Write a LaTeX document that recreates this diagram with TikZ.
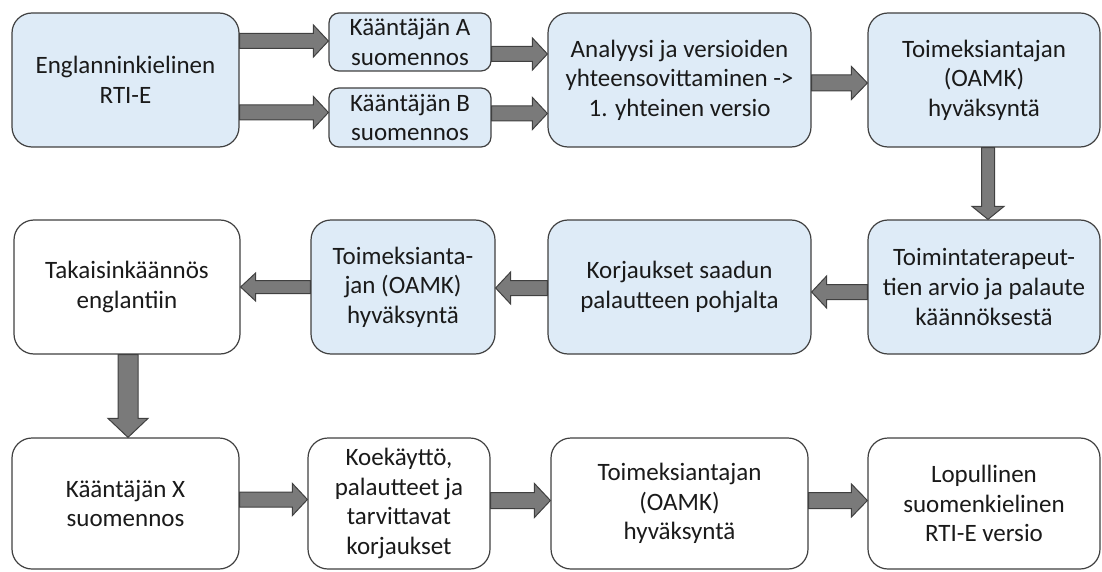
\documentclass[tikz,border=0pt]{standalone}
\usepackage{fontspec}
\setmainfont{Carlito}
\usetikzlibrary{calc}
\definecolor{boxblue}{HTML}{DEEBF7}
\definecolor{boxline}{HTML}{404040}
\definecolor{arrfill}{HTML}{7A7A7A}
\definecolor{txt}{HTML}{1A1A1A}
\tikzset{
  procbox/.style={draw=boxline, line width=1.2pt, rounded corners=20pt, align=center,
    inner sep=0pt, text=txt, font=\fontsize{25}{29.6}\selectfont},
  bluebox/.style={procbox, fill=boxblue},
  whitebox/.style={procbox, fill=white},
  smallbox/.style={rounded corners=10pt},
  blockarr/.style={draw=boxline, line width=1pt, fill=arrfill, line join=miter}
}
\newcommand\barrow[5]{%
  \coordinate (bs) at (#1);
  \coordinate (bt) at (#2);
  \coordinate (bh) at ($(bt)!#5!(bs)$);
  \draw[blockarr] ($(bs)!#3!90:(bt)$) -- ($(bh)!#3!-90:(bs)$) -- ($(bh)!#4!-90:(bs)$)
    -- (bt) -- ($(bh)!#4!90:(bs)$) -- ($(bh)!#3!90:(bs)$) -- ($(bs)!#3!-90:(bt)$) -- cycle;}
\begin{document}
\begin{tikzpicture}[x=1pt, y=-1pt]
\useasboundingbox (0,0) rectangle (1102,572);
% row 1
\node[bluebox, minimum width=227pt, minimum height=134pt] (n1) at (125.5,80) {Englanninkielinen\\RTI-E};
\node[bluebox, smallbox, minimum width=162pt, minimum height=58pt] (nA) at (410,42) {Kääntäjän A\\suomennos};
\node[bluebox, smallbox, minimum width=162pt, minimum height=59pt] (nB) at (410,117.5) {Kääntäjän B\\suomennos};
\node[bluebox, minimum width=263pt, minimum height=134pt] (n3) at (679.5,80) {Analyysi ja versioiden\\yhteensovittaminen ->\\1. yhteinen versio};
\node[bluebox, minimum width=232pt, minimum height=134pt] (n4) at (984,80) {Toimeksiantajan\\(OAMK)\\hyväksyntä};
% row 2
\node[bluebox, minimum width=232pt, minimum height=134pt] (n5) at (984,287) {Toimintaterapeut-\\tien arvio ja palaute\\käännöksestä};
\node[bluebox, minimum width=263pt, minimum height=134pt] (n6) at (679.5,287) {Korjaukset saadun\\palautteen pohjalta};
\node[bluebox, minimum width=184pt, minimum height=134pt] (n7) at (403,287) {Toimeksianta-\\jan (OAMK)\\hyväksyntä};
\node[whitebox, minimum width=226pt, minimum height=134pt] (n8) at (127,287) {Takaisinkäännös\\englantiin};
% row 3
\node[whitebox, minimum width=227pt, minimum height=131pt] (n9) at (125.5,503.5) {Kääntäjän X\\suomennos};
\node[whitebox, minimum width=182pt, minimum height=131pt] (n10) at (399,503.5) {Koekäyttö,\\palautteet ja\\tarvittavat\\korjaukset};
\node[whitebox, minimum width=257pt, minimum height=131pt] (n11) at (679.5,503.5) {Toimeksiantajan\\(OAMK)\\hyväksyntä};
\node[whitebox, minimum width=232pt, minimum height=131pt] (n12) at (984,503.5) {Lopullinen\\suomenkielinen\\RTI-E versio};
% arrows
\barrow{$(n1.east |- nA.west)+(0,-1)$}{nA.west |- bs}{7.5pt}{16pt}{15pt}
\barrow{$(n1.east |- nB.west)+(0,-5)$}{nB.west |- bs}{7.5pt}{16pt}{15pt}
\barrow{$(nA.east)+(0,12)$}{n3.west |- bs}{7.5pt}{16pt}{15pt}
\barrow{$(nB.east)+(0,-4)$}{n3.west |- bs}{7.5pt}{16pt}{15pt}
\barrow{$(n3.east)+(0,3)$}{n4.west |- bs}{8pt}{16.5pt}{16pt}
\barrow{$(n4.south)+(4,0)$}{n5.north -| bs}{6.5pt}{16pt}{13pt}
\barrow{$(n5.west)+(0,5)$}{n6.east |- bs}{7.5pt}{16pt}{15pt}
\barrow{$(n6.west)+(0,1)$}{n7.east |- bs}{7.5pt}{16pt}{15pt}
\barrow{$(n7.west)+(0,0)$}{n8.east |- bs}{6.5pt}{14pt}{15pt}
\barrow{$(n8.south)+(1,0)$}{n9.north -| bs}{10pt}{20pt}{19pt}
\barrow{$(n9.east)+(0,-4)$}{n10.west |- bs}{7.5pt}{16pt}{15pt}
\barrow{$(n10.east)+(0,-3)$}{n11.west |- bs}{8pt}{17pt}{16pt}
\barrow{$(n11.east)+(0,-3)$}{n12.west |- bs}{8pt}{16.5pt}{16pt}
\end{tikzpicture}
\end{document}
